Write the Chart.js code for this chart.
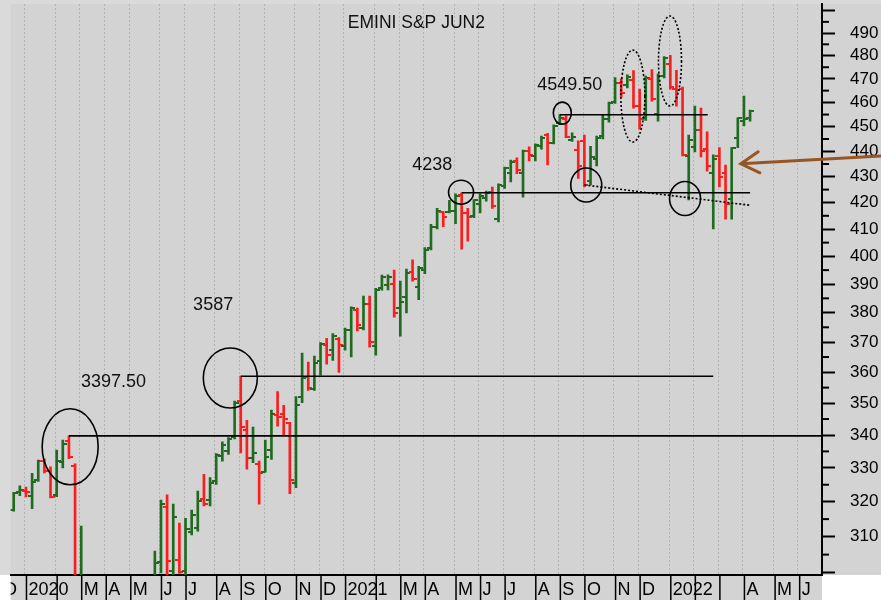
<!DOCTYPE html>
<html>
<head>
<meta charset="utf-8">
<title>EMINI S&amp;P JUN2</title>
<script src="https://cdn.jsdelivr.net/npm/chart.js@4.4.1/dist/chart.umd.min.js"></script>
<style>
  html, body { margin: 0; padding: 0; background: #fff; }
  #wrap { width: 881px; height: 600px; }
</style>
</head>
<body>
<div id="wrap"><canvas id="esChart" width="881" height="600"></canvas></div>
<script>
// weekly bars, dated by their Friday, first one on 20 Dec 2019
const chartTitle = 'EMINI S&P JUN2';
const firstBarFriday = Date.UTC(2019, 11, 20);

const opens = [
    3176, 3228, 3233, 3218, 3263, 3321, 3291, 3220, 3318, 3381,
    3306, 2950, 2830, 2450, 2200, 2480, 2550, 2780, 2810, 2850,
    2800, 2920, 2900, 2955, 3030, 3185, 3005, 3035, 3005, 3113,
    3124, 3209, 3204, 3260, 3335, 3351, 3395, 3506, 3417, 3330,
    3311, 3289, 3354, 3464, 3466, 3438, 3256, 3520, 3585, 3546,
    3637, 3690, 3672, 3710, 3686, 3741, 3809, 3747, 3832, 3686,
    3887, 3897, 3900, 3816, 3855, 3943, 3889, 3951, 4032, 4108,
    4163, 4164, 4168, 4231, 4161, 4149, 4193, 4217, 4242, 4137,
    4264, 4316, 4360, 4316, 4402, 4382, 4422, 4466, 4435, 4515,
    4530, 4445, 4406, 4442, 4283, 4370, 4462, 4531, 4602, 4683,
    4674, 4695, 4585, 4535, 4698, 4552, 4712, 4765, 4659, 4659,
    4382, 4418, 4488, 4410, 4316, 4382, 4314, 4214, 4454, 4525,
    4536
];
const highs = [
    3228, 3247, 3243, 3284, 3324, 3327, 3303, 3354, 3385, 3397.5,
    3312, 3130, 2880, 2560, 2640, 2600, 2818, 2875, 2840, 2950,
    2930, 2935, 2985, 3060, 3205, 3220, 3193, 3139, 3152, 3176,
    3231, 3281, 3271, 3343, 3379, 3392, 3507, 3587, 3446, 3425,
    3321, 3385, 3478, 3537, 3493, 3440, 3521, 3663, 3633, 3653,
    3698, 3713, 3729, 3715, 3747, 3820, 3816, 3858, 3858, 3885,
    3932, 3933, 3950, 3911, 3954, 3987, 3964, 4032, 4118, 4178,
    4166, 4209, 4234, 4238, 4178, 4212, 4234, 4244, 4260, 4272,
    4338, 4366, 4375, 4405, 4418, 4431, 4462, 4473, 4508, 4549.5,
    4545, 4475, 4443, 4466, 4420, 4462, 4548, 4602, 4705, 4700,
    4717, 4736, 4657, 4712, 4740, 4722, 4796, 4802, 4737, 4665,
    4466, 4585, 4577, 4479, 4386, 4415, 4346, 4415, 4537, 4627,
    4569
];
const lows = [
    3173, 3218, 3214, 3180, 3260, 3285, 3211, 3215, 3300, 3328,
    2855, 2900, 2401, 2280, 2174, 2435, 2500, 2710, 2720, 2800,
    2770, 2770, 2880, 2930, 3000, 2935, 2980, 2998, 2985, 3105,
    3116, 3188, 3188, 3251, 3320, 3341, 3388, 3345, 3296, 3316,
    3193, 3287, 3326, 3428, 3398, 3224, 3241, 3502, 3541, 3541,
    3590, 3626, 3639, 3599, 3673, 3650, 3738, 3741, 3683, 3656,
    3879, 3880, 3785, 3720, 3799, 3911, 3845, 3937, 4023, 4101,
    4109, 4161, 4120, 4026, 4055, 4143, 4161, 4206, 4178, 4127,
    4255, 4280, 4312, 4221, 4362, 4362, 4409, 4346, 4430, 4508,
    4455, 4440, 4293, 4260, 4268, 4342, 4450, 4519, 4596, 4623,
    4661, 4577, 4490, 4526, 4606, 4523, 4704, 4656, 4585, 4382,
    4210, 4398, 4378, 4322, 4101, 4260, 4137, 4137, 4415, 4503,
    4523
];
const closes = [
    3225, 3234, 3228, 3259, 3321, 3291, 3214, 3320, 3372, 3333,
    2951, 2970, 2711, 2300, 2525, 2480, 2780, 2860, 2830, 2820,
    2925, 2850, 2950, 3028, 3194, 3032, 3157, 3003, 3122, 3161,
    3202, 3194, 3256, 3339, 3371, 3388, 3502, 3425, 3329, 3346,
    3284, 3333, 3466, 3456, 3449, 3264, 3494, 3580, 3549, 3631,
    3693, 3656, 3721, 3690, 3741, 3816, 3758, 3832, 3701, 3879,
    3926, 3926, 3799, 3837, 3940, 3920, 3958, 4023, 4108, 4170,
    4145, 4168, 4225, 4161, 4145, 4209, 4225, 4238, 4187, 4268,
    4334, 4356, 4325, 4402, 4385, 4425, 4455, 4435, 4503, 4535,
    4458, 4458, 4342, 4268, 4378, 4454, 4531, 4597, 4683, 4640,
    4708, 4585, 4531, 4704, 4613, 4712, 4790, 4665, 4652, 4386,
    4446, 4485, 4402, 4342, 4370, 4300, 4195, 4413, 4534, 4533,
    4565
];

// month boxes along the bottom, starting with December 2019
const firstLabelMonth = { year: 2019, month: 11 };
const monthLabels = [
    'D', '2020', '', 'M', 'A', 'M', 'J', 'J', 'A', 'S', 'O', 'N',
    'D', '2021', '', 'M', 'A', 'M', 'J', 'J', 'A', 'S', 'O', 'N',
    'D', '2022', '', '', 'A', 'M', 'J'
];

// right axis shows price / 10
const priceLabels = [3100, 3200, 3300, 3400, 3500, 3600, 3700, 3800, 3900, 4000,
    4100, 4200, 4300, 4400, 4500, 4600, 4700, 4800, 4900];
const priceRange = [2994, 5031];
const weekRange = [-0.49, 131.72];

// drawn notes (week = bars since first bar)
const levels = [
    { price: 3397.5, from: 9, to: null },
    { price: 3587, from: 37, to: 114 },
    { price: 4238, from: 73, to: 120 },
    { price: 4549.5, from: 89, to: 113.1 }
];
const trendLine = { from: [93, 4268], to: [120, 4190] };
const levelNotes = [
    { text: '3397.50', week: 16.26, price: 3568 },
    { text: '3587', week: 32.5, price: 3827 },
    { text: '4238', week: 68.2, price: 4346 },
    { text: '4549.50', week: 90.6, price: 4673 }
];
const rings = [
    { week: 9.2, price: 3364, rx: 28, ry: 38, dotted: false },
    { week: 35.3, price: 3581, rx: 27, ry: 30, dotted: false },
    { week: 72.9, price: 4240, rx: 12.5, ry: 12, dotted: false },
    { week: 89.4, price: 4556, rx: 9, ry: 11, dotted: false },
    { week: 93.3, price: 4268, rx: 15.5, ry: 17, dotted: false },
    { week: 109.4, price: 4216, rx: 15.5, ry: 17, dotted: false },
    { week: 100.9, price: 4627, rx: 12, ry: 46, dotted: true },
    { week: 106.95, price: 4777, rx: 11.5, ry: 45, dotted: true }
];
const arrow = { week: 118.5, price: 4351, tailPrice: 4382 };

const GREEN = '#1f6b1f';
const RED = '#fa1e1e';
const FONT = '"Liberation Sans", Arial, Helvetica, sans-serif';

const weeks = opens.map((_, k) => k);
const rising = weeks.map(k => closes[k] >= opens[k]);

const DAY = 864e5;
const monthStarts = monthLabels.map((_, k) => {
    let d = new Date(Date.UTC(firstLabelMonth.year, firstLabelMonth.month + k, 1));
    while (d.getUTCDay() !== 5) d = new Date(d.getTime() + DAY);
    return Math.round((d.getTime() - firstBarFriday) / (7 * DAY));
});

const gridPrices = [];
for (let v = 3000; v <= 5000; v += 50) gridPrices.push(v);

// little open / close ticks used as point images
function tickImage(color, side) {
    const c = document.createElement('canvas');
    c.width = 8;
    c.height = 2;
    const g = c.getContext('2d');
    g.fillStyle = color;
    g.fillRect(side === 'left' ? 0 : 4, 0, 4, 2);
    return c;
}
const tickImgs = {
    openUp: tickImage(GREEN, 'left'), openDown: tickImage(RED, 'left'),
    closeUp: tickImage(GREEN, 'right'), closeDown: tickImage(RED, 'right')
};

const backdrop = {
    id: 'backdrop',
    beforeDraw(chart) {
        const { ctx, chartArea: a, width, height } = chart;
        ctx.save();
        ctx.fillStyle = '#ffffff';
        ctx.fillRect(0, 0, width, height);
        ctx.fillStyle = '#dadada';
        ctx.fillRect(0, 0, width, a.bottom);
        ctx.fillStyle = '#d3d3d3';
        ctx.fillRect(a.left, a.top, width - a.left, a.bottom - a.top);
        ctx.fillRect(a.left, a.bottom, a.right - a.left, height - a.bottom);
        ctx.restore();
    }
};

const annotations = {
    id: 'annotations',
    afterDatasetsDraw(chart) {
        const { ctx, chartArea: a, scales: { x, y } } = chart;
        const X = v => x.getPixelForValue(v);
        const Y = v => y.getPixelForValue(v);

        ctx.save();
        ctx.beginPath();
        ctx.rect(a.left, a.top, a.right - a.left, a.bottom - a.top);
        ctx.clip();
        ctx.strokeStyle = '#000';
        ctx.lineWidth = 1.6;

        levels.forEach(l => {
            const py = Y(l.price);
            ctx.beginPath();
            ctx.moveTo(X(l.from), py);
            ctx.lineTo(l.to === null ? a.right : X(l.to), py);
            ctx.stroke();
        });

        ctx.setLineDash([2, 2]);
        ctx.beginPath();
        ctx.moveTo(X(trendLine.from[0]), Y(trendLine.from[1]));
        ctx.lineTo(X(trendLine.to[0]), Y(trendLine.to[1]));
        ctx.stroke();

        rings.forEach(r => {
            ctx.setLineDash(r.dotted ? [2, 2] : []);
            ctx.beginPath();
            ctx.ellipse(X(r.week), Y(r.price), r.rx, r.ry, 0, 0, Math.PI * 2);
            ctx.stroke();
        });
        ctx.setLineDash([]);

        ctx.fillStyle = '#111';
        ctx.textAlign = 'center';
        ctx.textBaseline = 'middle';
        ctx.font = '18px ' + FONT;
        levelNotes.forEach(n => ctx.fillText(n.text, X(n.week), Y(n.price)));
        ctx.font = '17.5px ' + FONT;
        ctx.fillText(chartTitle, (a.left + a.right) / 2, a.top + 19);
        ctx.restore();

        // brown arrow coming in from the right edge
        const tx = X(arrow.week), ty = Y(arrow.price);
        const ex = chart.width, ey = Y(arrow.tailPrice);
        const ang = Math.atan2(ey - ty, ex - tx);
        ctx.save();
        ctx.strokeStyle = '#985524';
        ctx.lineWidth = 3;
        ctx.lineCap = 'round';
        ctx.beginPath();
        ctx.moveTo(ex, ey);
        ctx.lineTo(tx, ty);
        ctx.moveTo(tx + 21 * Math.cos(ang - 0.55), ty + 21 * Math.sin(ang - 0.55));
        ctx.lineTo(tx, ty);
        ctx.lineTo(tx + 21 * Math.cos(ang + 0.5), ty + 21 * Math.sin(ang + 0.5));
        ctx.stroke();
        ctx.restore();
    }
};

const axisExtras = {
    id: 'axisExtras',
    afterDraw(chart) {
        const { ctx, chartArea: a, scales: { x, y }, height } = chart;

        // short ticks at the half-hundreds
        ctx.save();
        ctx.strokeStyle = '#000';
        ctx.lineWidth = 2;
        gridPrices.filter(v => v % 100 !== 0).forEach(v => {
            const py = y.getPixelForValue(v);
            if (py < a.top || py > a.bottom) return;
            ctx.beginPath();
            ctx.moveTo(a.right, py);
            ctx.lineTo(a.right + 7, py);
            ctx.stroke();
        });
        ctx.restore();

        // month boxes
        ctx.save();
        ctx.beginPath();
        ctx.rect(a.left, a.bottom, a.right - a.left, height - a.bottom);
        ctx.clip();
        ctx.strokeStyle = '#000';
        ctx.lineWidth = 1.5;
        ctx.fillStyle = '#000';
        ctx.font = '18px ' + FONT;
        ctx.textAlign = 'left';
        ctx.textBaseline = 'alphabetic';
        monthStarts.forEach((m, k) => {
            const px = x.getPixelForValue(m + 0.08);
            ctx.beginPath();
            ctx.moveTo(px, a.bottom);
            ctx.lineTo(px, height);
            ctx.stroke();
            ctx.fillText(monthLabels[k], px + 2, a.bottom + 20);
        });
        ctx.restore();
    }
};

new Chart(document.getElementById('esChart'), {
    type: 'bar',
    data: {
        datasets: [
            {
                label: 'range',
                data: weeks.map(k => ({ x: k, y: [lows[k], highs[k]] })),
                backgroundColor: weeks.map(k => rising[k] ? GREEN : RED),
                borderWidth: 0,
                barThickness: 2
            },
            {
                type: 'line',
                label: 'open',
                data: weeks.map(k => ({ x: k, y: opens[k] })),
                showLine: false,
                pointRadius: 3,
                pointHoverRadius: 3,
                pointStyle: c => rising[c.dataIndex] ? tickImgs.openUp : tickImgs.openDown
            },
            {
                type: 'line',
                label: 'close',
                data: weeks.map(k => ({ x: k, y: closes[k] })),
                showLine: false,
                pointRadius: 3,
                pointHoverRadius: 3,
                pointStyle: c => rising[c.dataIndex] ? tickImgs.closeUp : tickImgs.closeDown
            }
        ]
    },
    options: {
        responsive: false,
        animation: false,
        devicePixelRatio: 1,
        events: [],
        layout: { padding: { left: 10.7, top: 3, right: 0, bottom: 0 } },
        plugins: {
            legend: { display: false },
            tooltip: { enabled: false },
            title: { display: false }
        },
        scales: {
            x: {
                type: 'linear',
                min: weekRange[0],
                max: weekRange[1],
                offset: false,
                afterBuildTicks: s => {
                    s.ticks = monthStarts
                        .filter(m => m > weekRange[0] && m < weekRange[1])
                        .map(m => ({ value: m - 0.2 }));
                },
                afterFit: s => {
                    s.height = 25;
                    s.paddingLeft = 0;
                    s.paddingRight = 0;
                },
                ticks: { display: false },
                grid: { offset: false, drawTicks: false, color: '#b3b3b3', lineWidth: 1 },
                border: { display: true, color: '#000', width: 2, dash: [2, 2] }
            },
            y: {
                type: 'logarithmic',
                position: 'right',
                min: priceRange[0],
                max: priceRange[1],
                bounds: 'data',
                afterBuildTicks: s => {
                    s.ticks = gridPrices.map(v => ({ value: v }));
                },
                afterFit: s => {
                    s.width = 59;
                    s.paddingTop = 0;
                    s.paddingBottom = 0;
                },
                ticks: {
                    autoSkip: false,
                    padding: 15,
                    color: '#000',
                    font: { family: FONT, size: 17 },
                    callback: v => priceLabels.includes(v) ? String(v / 10) : ''
                },
                grid: {
                    drawOnChartArea: false,
                    drawTicks: true,
                    tickLength: 13,
                    tickWidth: 2,
                    tickColor: c => (c.tick && c.tick.value % 100 === 0) ? '#000' : 'rgba(0,0,0,0)'
                },
                border: { display: true, color: '#000', width: 2 }
            }
        }
    },
    plugins: [backdrop, annotations, axisExtras]
});
</script>
</body>
</html>
